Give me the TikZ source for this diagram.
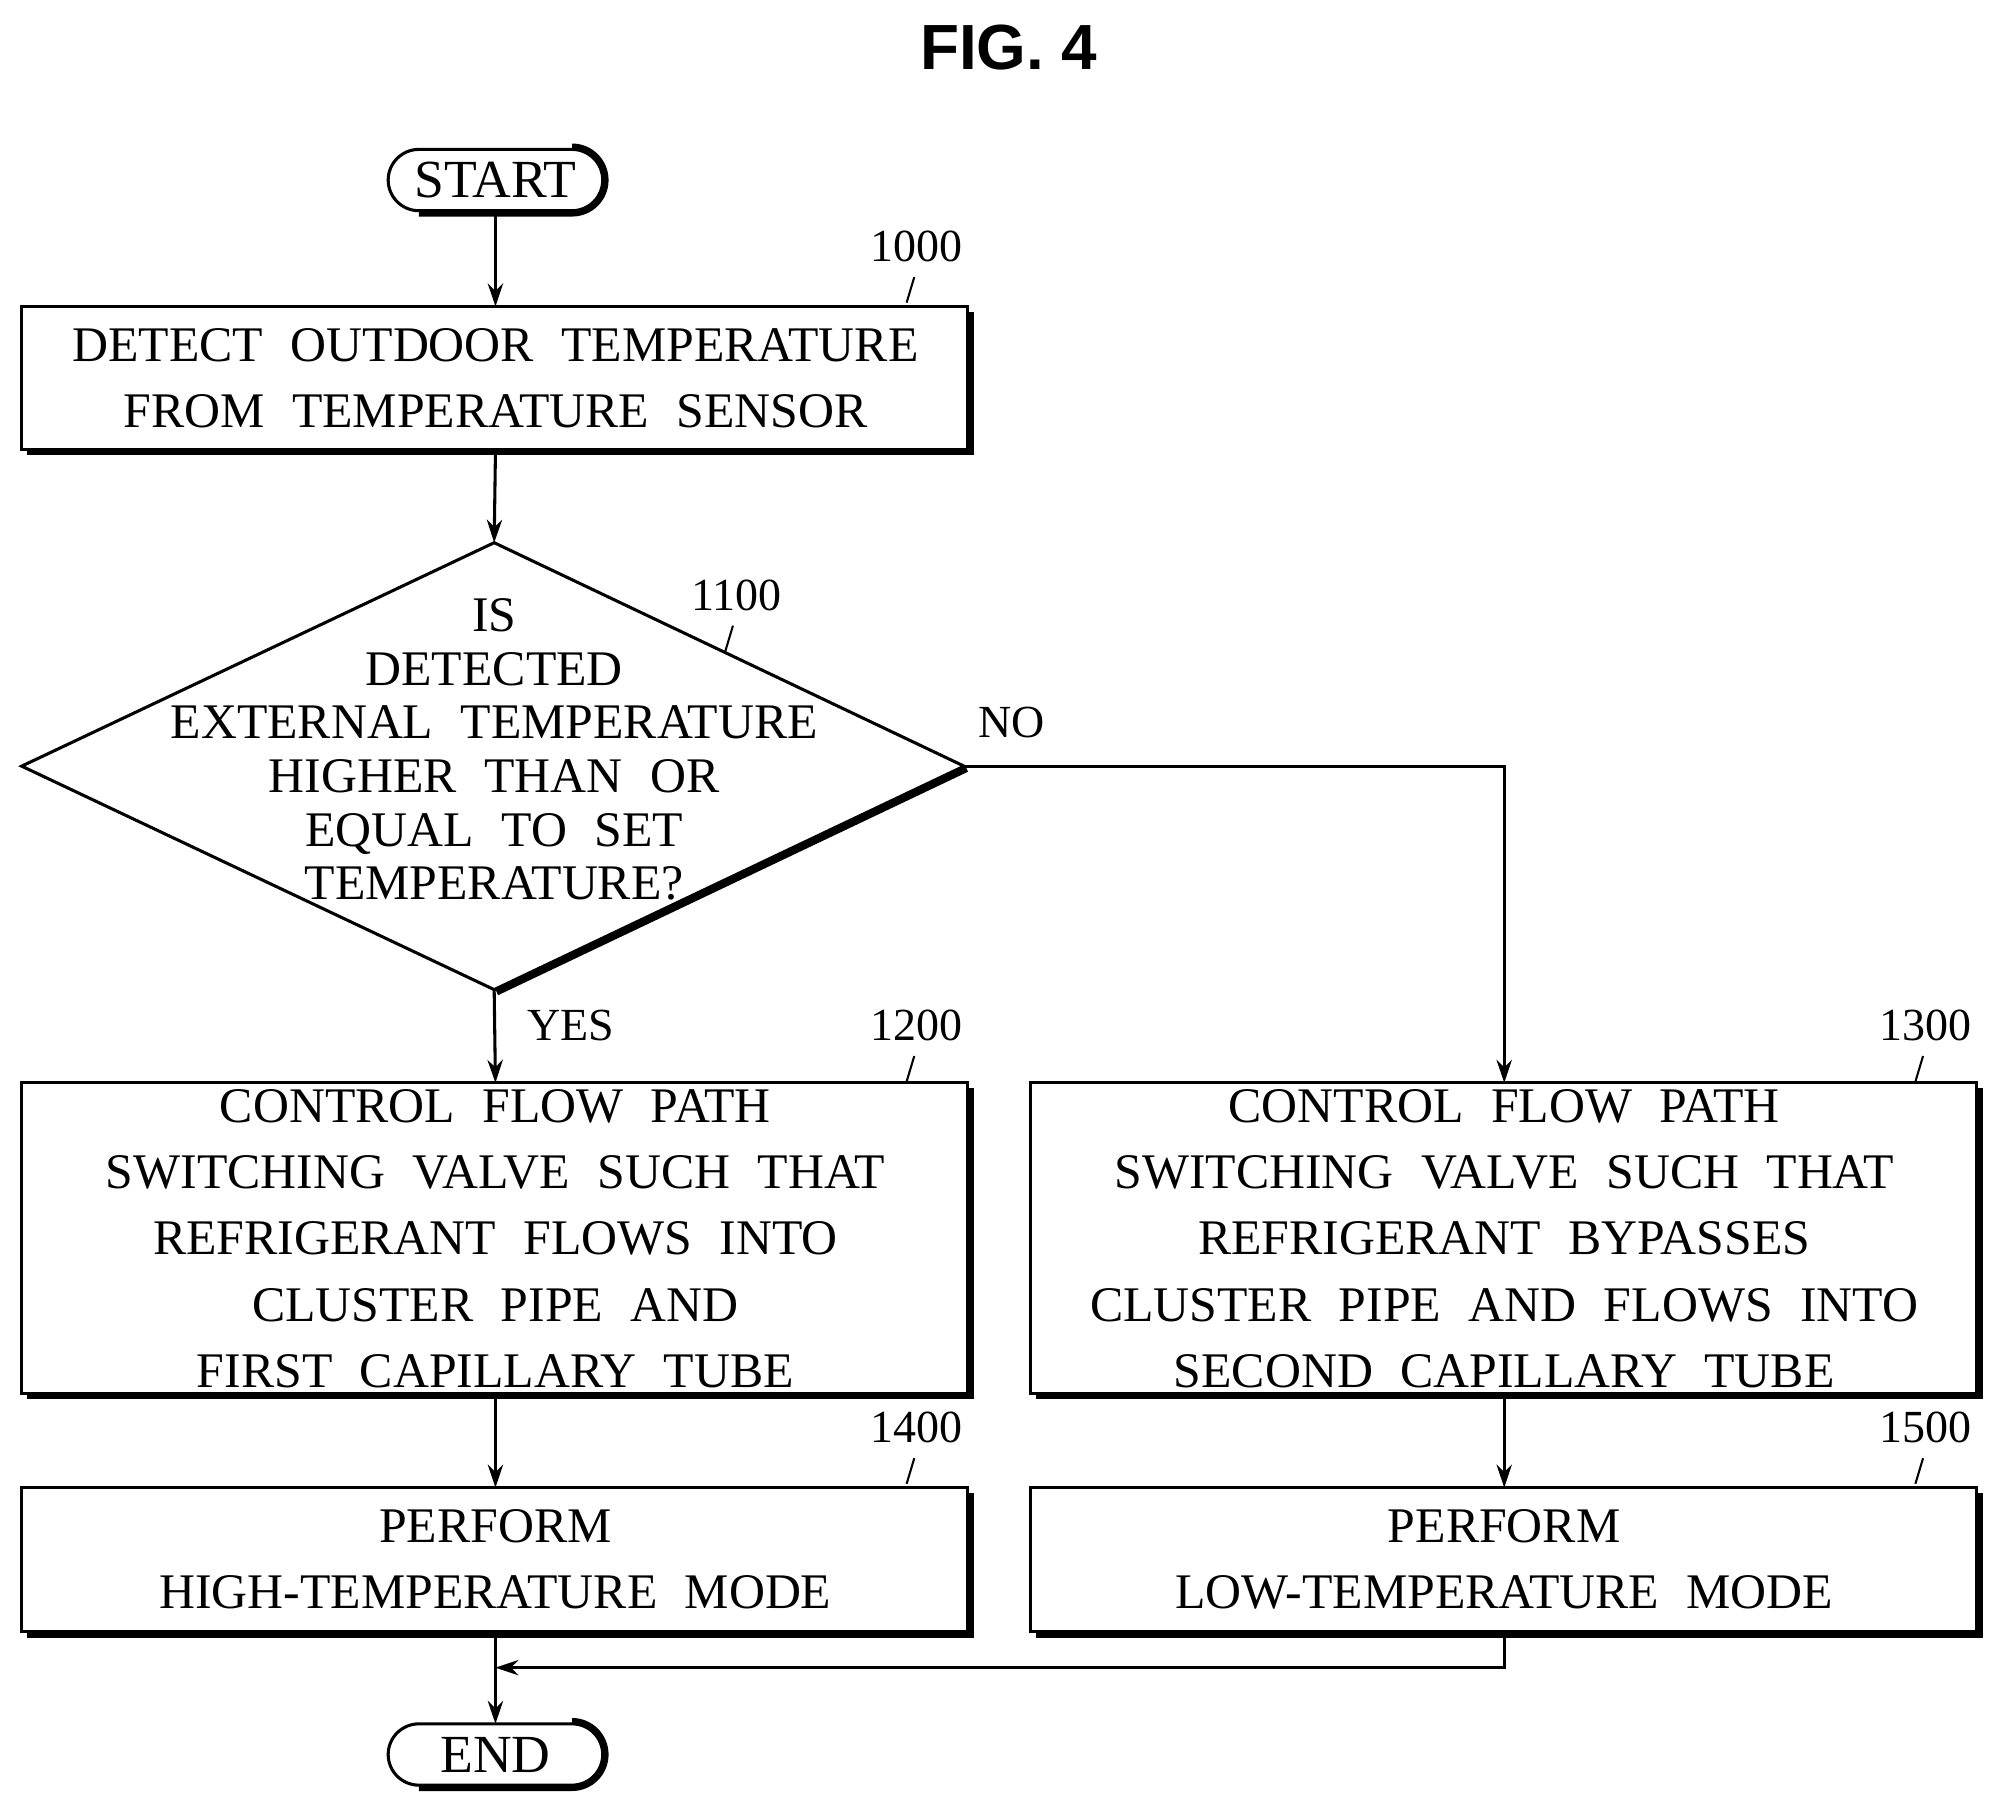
\documentclass[tikz,border=0pt]{standalone}
\usepackage{fontspec}
\setmainfont{Liberation Serif}[WordSpace=2.2]
\newfontfamily\titlefont{Liberation Sans}
\usetikzlibrary{shapes.geometric,arrows.meta}
\begin{document}
\begin{tikzpicture}[x=0.5pt,y=-0.5pt,
  txt/.style={font=\fontsize{19.5}{22}\selectfont, align=center, inner sep=0pt},
  lbl/.style={font=\fontsize{18}{20}\selectfont, inner sep=0pt},
  ln/.style={line width=1.2pt},
  arr/.style={ln,-{Stealth[length=9pt,width=6pt]}},
  sh/.style={line width=2.6pt}]
\useasboundingbox (0,0) rectangle (1560,1413);
\node[font=\titlefont\bfseries\fontsize{25}{28}\selectfont] (title) at (790,37) {FIG. 4};
% boxes
\newcommand\mybox[5]{%
  \draw[ln] (#1,#2) rectangle (#3,#4);
  \draw[sh] (#1+4,#4+2) -- (#3+2,#4+2) -- (#3+2,#2+4);
  \node[txt] (#5) at ({(#1+#3)/2},{(#2+#4)/2}) {};}
\newcommand\pill[3]{%
  \draw[ln,rounded corners=12pt] (#1-84,#2-24) rectangle (#1+84,#2+24);
  \draw[sh] (#1-60,#2+26) -- (#1+60,#2+26) arc (-90:90:13pt);
  \node[txt,font=\fontsize{21}{22}\selectfont] (#3) at (#1,#2) {\MakeUppercase{#3}};}
\pill{388}{141}{start}
\pill{388}{1374}{end}
\mybox{17}{240}{758}{352}{b1000}
\mybox{17}{848}{758}{1091}{b1200}
\mybox{807}{848}{1548}{1091}{b1300}
\mybox{17}{1165}{758}{1278}{b1400}
\mybox{807}{1165}{1548}{1278}{b1500}
\node[txt] at (388,296) {DETECT OUTDOOR TEMPERATURE\\[4pt]FROM TEMPERATURE SENSOR};
\node[txt] at (388,970) {CONTROL FLOW PATH\\[4pt]SWITCHING VALVE SUCH THAT\\[4pt]REFRIGERANT FLOWS INTO\\[4pt]CLUSTER PIPE AND\\[4pt]FIRST CAPILLARY TUBE};
\node[txt] at (1178,970) {CONTROL FLOW PATH\\[4pt]SWITCHING VALVE SUCH THAT\\[4pt]REFRIGERANT BYPASSES\\[4pt]CLUSTER PIPE AND FLOWS INTO\\[4pt]SECOND CAPILLARY TUBE};
\node[txt] at (388,1221) {PERFORM\\[4pt]HIGH-TEMPERATURE MODE};
\node[txt] at (1178,1221) {PERFORM\\[4pt]LOW-TEMPERATURE MODE};
% diamond
\coordinate (dt) at (387,425); \coordinate (dl) at (17,600);
\coordinate (dr) at (755,600); \coordinate (db) at (387,775);
\draw[ln] (dt) -- (dr) -- (db) -- (dl) -- cycle;
\draw[sh] (389,777) -- (757,602);
\node[txt] (q) at (387,587) {IS\\[-1pt]DETECTED\\[-1pt]EXTERNAL TEMPERATURE\\[-1pt]HIGHER THAN OR\\[-1pt]EQUAL TO SET\\[-1pt]TEMPERATURE?};
% labels
\foreach \t/\x/\y in {1000/718/193,1200/718/803,1300/1508/803,1400/718/1118,1500/1508/1118}{
  \node[lbl] (l\t) at (\x,\y) {\t};
  \draw[line width=0.8pt] (\x-8,\y+44) -- (\x-2,\y+24);}
\node[lbl] (l1100) at (577,466) {1100};
\draw[line width=0.8pt] (568,510) -- (574,490);
\node[lbl] (no) at (792,566) {NO};
\node[lbl] (yes) at (447,803) {YES};
% connectors
\draw[arr] (388,165) -- (388,240);
\draw[arr] (388,354) -- (dt);
\draw[arr] (db) -- (388,848);
\draw[arr] (dr) -- (1178,600) -- (1178,848);
\draw[arr] (388,1093) -- (388,1165);
\draw[arr] (1178,1093) -- (1178,1165);
\draw[arr] (388,1280) -- (388,1350);
\draw[arr] (1178,1280) -- (1178,1306) -- (388,1306);
\end{tikzpicture}
\end{document}
